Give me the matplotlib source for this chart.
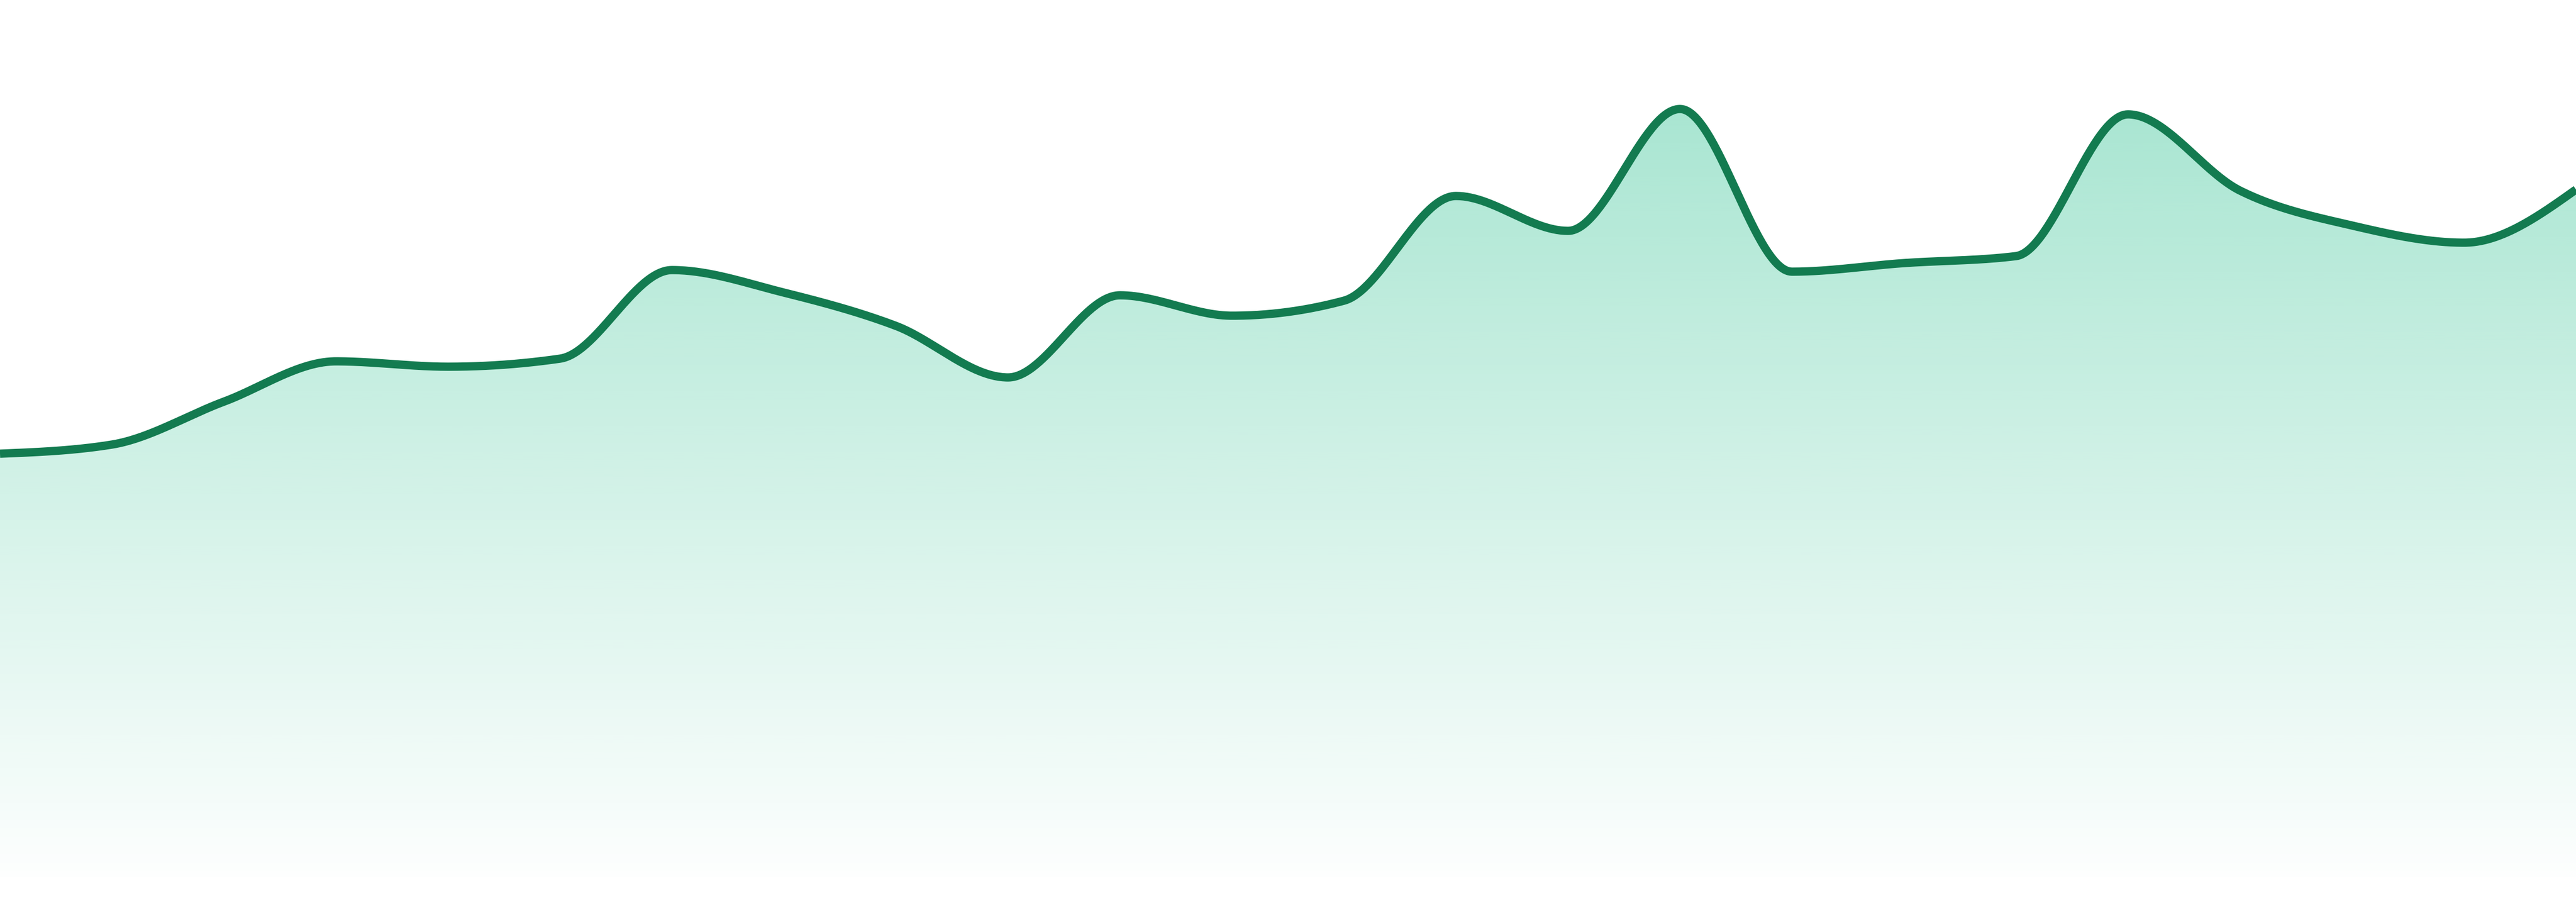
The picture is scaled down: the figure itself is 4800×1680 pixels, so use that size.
import numpy as np
import matplotlib
matplotlib.use('Agg')
import matplotlib.pyplot as plt
from matplotlib.patches import PathPatch
from matplotlib.path import Path

# sparkline values (24 evenly spaced samples)
points = list(range(24))
values = [78.8, 80.5, 88.5, 96.0, 95.0, 96.5, 113.0, 108.8, 102.6, 93.0,
          108.3, 104.5, 107.3, 126.8, 120.3, 143.0, 112.7, 114.3, 115.6, 142.0,
          127.8, 121.3, 118.1, 128.0]

line_color = '#137b50'
fill_color = '#10b981'


def monotone_curve(x, y, per_seg=60):
    """monotone cubic (like d3 curveMonotoneX) through the points"""
    x = np.asarray(x, float)
    y = np.asarray(y, float)
    h = np.diff(x)
    s = np.diff(y) / h
    t = np.zeros_like(y)
    for i in range(1, len(y) - 1):
        s0, s1 = s[i - 1], s[i]
        p = (s0 * h[i] + s1 * h[i - 1]) / (h[i - 1] + h[i])
        t[i] = (np.sign(s0) + np.sign(s1)) * min(abs(s0), abs(s1), 0.5 * abs(p))
    t[0] = (3 * s[0] - t[1]) / 2
    t[-1] = (3 * s[-1] - t[-2]) / 2
    xs, ys = [], []
    for i in range(len(h)):
        u = np.linspace(0, 1, per_seg, endpoint=(i == len(h) - 1))
        h00 = 2 * u**3 - 3 * u**2 + 1
        h10 = u**3 - 2 * u**2 + u
        h01 = -2 * u**3 + 3 * u**2
        h11 = u**3 - u**2
        xs.append(x[i] + u * h[i])
        ys.append(h00 * y[i] + h10 * h[i] * t[i] + h01 * y[i + 1] + h11 * h[i] * t[i + 1])
    return np.concatenate(xs), np.concatenate(ys)


cx, cy = monotone_curve(points, values)

fig = plt.figure(figsize=(16, 5.6), dpi=300)
ax = fig.add_axes([0, 0, 1, 1])
ax.set_xlim(points[0], points[-1])
ax.set_ylim(-4.7, 163.3)
ax.axis('off')

# gradient area under the curve (strong at the top, fading out at the base)
top = max(values)
grad = np.zeros((256, 1, 4))
grad[:, 0, :3] = matplotlib.colors.to_rgb(fill_color)
grad[:, 0, 3] = np.linspace(0.36, 0.01, 256)
img = ax.imshow(grad, extent=[points[0], points[-1], 0, top], aspect='auto',
                origin='upper', interpolation='bicubic', zorder=1)
verts = np.column_stack([np.r_[cx, cx[-1], cx[0]], np.r_[cy, 0, 0]])
clip = PathPatch(Path(verts), facecolor='none', edgecolor='none')
ax.add_patch(clip)
img.set_clip_path(clip)

ax.plot(cx, cy, color=line_color, linewidth=3.7, solid_capstyle='butt', zorder=2)

fig.savefig('out.png', dpi=300, facecolor='white')
